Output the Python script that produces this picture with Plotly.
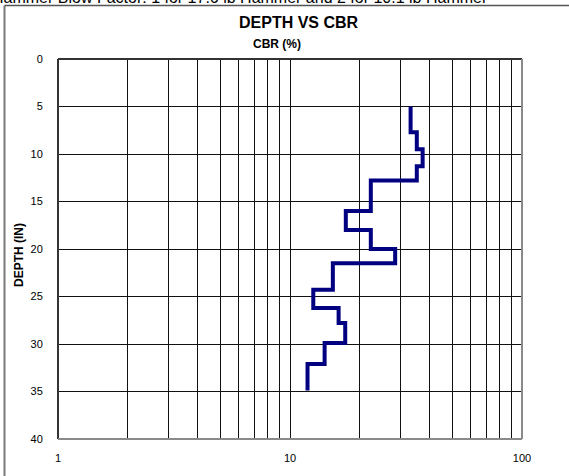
import plotly.graph_objects as go

# DCP results: depth at each reading (in) and CBR (%) of the layer below it
depth_in = [5.0, 7.7, 9.5, 11.3, 12.8, 16.0, 18.0, 20.0, 21.5, 24.3, 26.2, 27.8, 29.9, 32.1, 34.9]
cbr_pct = [33.1, 35.2, 37.3, 35.2, 22.3, 17.4, 22.3, 28.4, 15.3, 12.6, 16.2, 17.3, 14.1, 11.9]

x_ticks = [1, 2, 3, 4, 5, 6, 7, 8, 9, 10, 20, 30, 40, 50, 60, 70, 80, 90, 100]
x_tick_text = ["1", "", "", "", "", "", "", "", "", "10", "", "", "", "", "", "", "", "", "100"]
y_ticks = [0, 5, 10, 15, 20, 25, 30, 35, 40]

W, H = 569, 476
L, R, T, B = 58, 47, 59, 37
PW, PH = W - L - R, H - T - B


def px(x):
    return (x - L) / PW


def py(y):
    return (H - B - y) / PH


FONT = "Arial, 'Liberation Sans', sans-serif"

# each layer is drawn as a vertical run at its CBR, stepping at the next reading
fig = go.Figure(
    go.Scatter(
        x=cbr_pct + [cbr_pct[-1]],
        y=depth_in,
        mode="lines",
        line=dict(color="#000080", width=4, shape="vh"),
        hoverinfo="x+y",
        showlegend=False,
    )
)

fig.update_layout(
    width=W,
    height=H,
    margin=dict(l=L, r=R, t=T, b=B, pad=0),
    paper_bgcolor="white",
    plot_bgcolor="white",
    font=dict(family=FONT, size=11, color="black"),
    showlegend=False,
)

fig.update_xaxes(
    type="log",
    range=[0, 2],
    tickvals=x_ticks,
    ticktext=x_tick_text,
    showgrid=True,
    gridcolor="#111111",
    gridwidth=1,
    showline=False,
    zeroline=False,
    ticks="outside",
    ticklen=9,
    tickcolor="rgba(0,0,0,0)",
    tickfont=dict(size=11, family=FONT, color="black"),
)

fig.update_yaxes(
    range=[40, 0],
    tickvals=y_ticks,
    showgrid=True,
    gridcolor="#111111",
    gridwidth=1,
    showline=False,
    zeroline=False,
    ticks="outside",
    ticklen=12,
    tickcolor="rgba(0,0,0,0)",
    tickfont=dict(size=11, family=FONT, color="black"),
)

# plot frame: darker on left/top, lighter on right/bottom
frame = [
    dict(x0=0, x1=0, y0=0, y1=1, color="#333333"),
    dict(x0=0, x1=1, y0=1, y1=1, color="#333333"),
    dict(x0=1, x1=1, y0=0, y1=1, color="#8a8a8a"),
    dict(x0=0, x1=1, y0=0, y1=0, color="#8a8a8a"),
]
for s in frame:
    fig.add_shape(
        type="line", xref="paper", yref="paper",
        x0=s["x0"], x1=s["x1"], y0=s["y0"], y1=s["y1"],
        line=dict(color=s["color"], width=2), layer="above",
    )

# outer sheet border (left and top edges)
fig.add_shape(
    type="line", xref="paper", yref="paper",
    x0=px(4.5), x1=px(4.5), y0=py(5.5), y1=py(490),
    line=dict(color="#7a7a7a", width=2),
)
fig.add_shape(
    type="line", xref="paper", yref="paper",
    x0=px(4.5), x1=px(590), y0=py(5.5), y1=py(5.5),
    line=dict(color="#555555", width=1.5),
)

annotations = [
    dict(text="Hammer Blow Factor: 1 for 17.6 lb Hammer and 2 for 10.1 lb Hammer",
         x=px(490), y=py(8), xanchor="right", yanchor="bottom",
         font=dict(size=16, family=FONT, color="black")),
    dict(text="<b>DEPTH VS CBR</b>", x=px(299), y=py(23), xanchor="center", yanchor="middle",
         font=dict(size=16, family=FONT, color="black")),
    dict(text="<b>CBR (%)</b>", x=px(277), y=py(44), xanchor="center", yanchor="middle",
         font=dict(size=12, family=FONT, color="black")),
    dict(text="<b>DEPTH (IN)</b>", x=px(19), y=py(255), xanchor="center", yanchor="middle",
         textangle=-90, font=dict(size=12, family=FONT, color="black")),
]
for a in annotations:
    fig.add_annotation(xref="paper", yref="paper", showarrow=False, **a)

fig.write_html("out.html")
